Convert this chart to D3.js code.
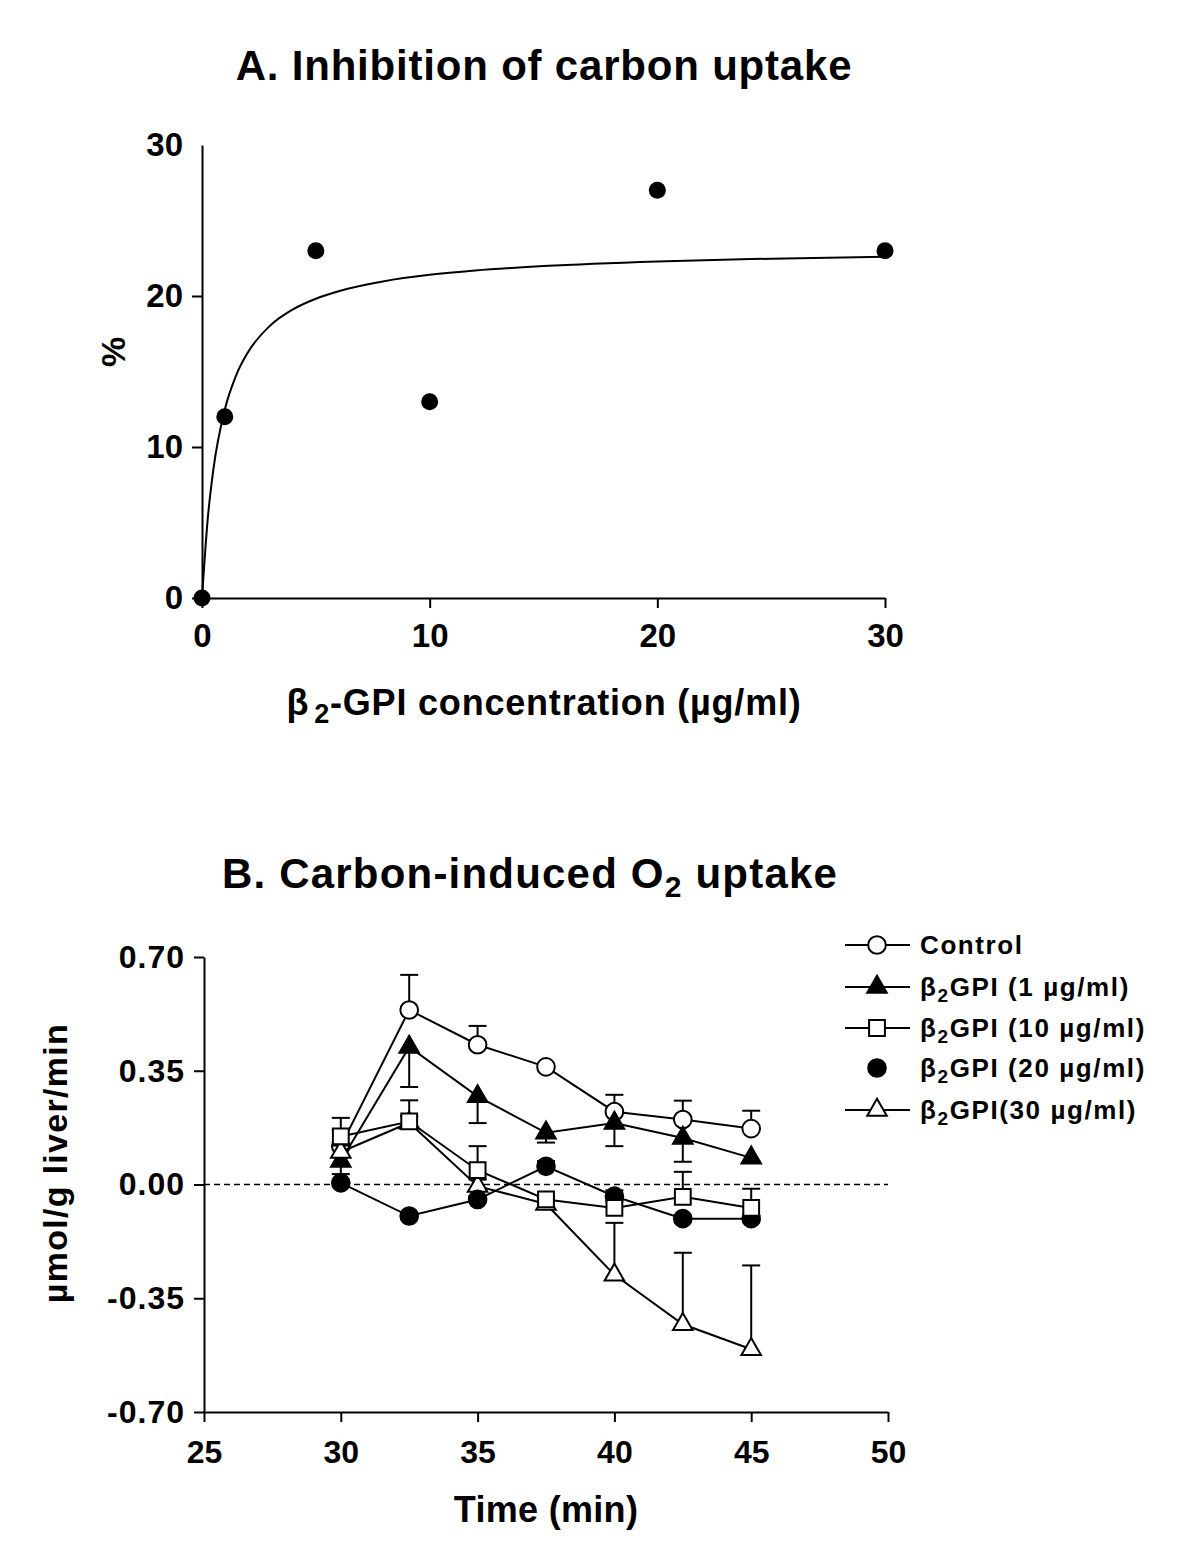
<!DOCTYPE html>
<html><head><meta charset="utf-8">
<script src="https://cdn.jsdelivr.net/npm/d3@7"></script>
<style>
body{margin:0;background:#fff;}
svg{display:block;font-family:"Liberation Sans",Arial,Helvetica,sans-serif;font-weight:bold;}
</style></head><body>
<svg id="chart" width="1200" height="1550"></svg>
<script>
// ---------- Panel A data ----------
const concA = [0, 1, 5, 10, 20, 30];
const inhibA = [0, 12, 23, 13, 27, 23];
const fitX = [0, 0.25, 0.5, 1, 1.5, 2, 3, 4, 5, 6, 8, 10, 12, 15, 20, 25, 30];
const fitY = [0, 5.21, 8.52, 12.47, 14.75, 16.23, 18.05, 19.12, 19.82, 20.32, 20.98, 21.40, 21.69, 21.98, 22.29, 22.47, 22.60];
const ticksAx = [0, 10, 20, 30];
const ticksAy = [0, 10, 20, 30];

// ---------- Panel B data ----------
const timeB = [30, 32.5, 35, 37.5, 40, 42.5, 45];
const controlMean = [0.118, 0.537, 0.430, 0.362, 0.224, 0.200, 0.172];
const controlSem  = [0.050, 0.108, 0.058, 0.010, 0.052, 0.058, 0.055];
const gpi1Mean  = [0.072, 0.423, 0.271, 0.159, 0.189, 0.143, 0.082];
const gpi1Sem   = [0.040, 0.123, 0.082, 0.030, 0.071, 0.073, 0.010];
const gpi10Mean = [0.148, 0.194, 0.044, -0.046, -0.072, -0.038, -0.072];
const gpi10Sem  = [0.057, 0.065, 0.074, 0.010, 0.020, 0.077, 0.059];
const gpi20Mean = [0.005, -0.097, -0.046, 0.056, -0.036, -0.105, -0.105];
const gpi20Sem  = [0.005, 0.010, 0.010, 0.016, 0.018, 0.010, 0.010];
const gpi30Mean = [0.100, 0.190, -0.005, -0.060, -0.278, -0.430, -0.507];
const gpi30Sem  = [0.020, 0.020, 0.020, 0.020, 0.160, 0.220, 0.258];
const ticksBx = [25, 30, 35, 40, 45, 50];
const ticksBy = [-0.70, -0.35, 0.00, 0.35, 0.70];
const legendLabels = [
  ["Control", "", ""],
  ["β", "2", "GPI (1 µg/ml)"],
  ["β", "2", "GPI (10 µg/ml)"],
  ["β", "2", "GPI (20 µg/ml)"],
  ["β", "2", "GPI(30 µg/ml)"]
];

const svg = d3.select("#chart");

function styleAxis(g, fs, ls) {
  g.select(".domain").attr("stroke", "#000").attr("stroke-width", 2);
  g.selectAll(".tick line").attr("stroke", "#000").attr("stroke-width", 2);
  g.selectAll(".tick text").attr("fill", "#000").style("font-size", fs + "px").style("font-weight", "bold")
    .style("letter-spacing", (ls || 0) + "px")
    .style("font-family", '"Liberation Sans",Arial,sans-serif');
}

// ================= PANEL A =================
const xA = d3.scaleLinear().domain([0, 30]).range([202, 885]);
const yA = d3.scaleLinear().domain([0, 30]).range([598, 145]);

svg.append("text").attr("x", 544).attr("y", 80).attr("text-anchor", "middle")
  .style("font-size", "42px").style("letter-spacing", "0.8px").text("A. Inhibition of carbon uptake");

const gAx = svg.append("g").attr("transform", `translate(0,${yA(0)})`)
  .call(d3.axisBottom(xA).tickValues(ticksAx).tickSize(10).tickSizeOuter(0).tickPadding(16).tickFormat(d3.format("d")));
styleAxis(gAx, 33, 0);
const gAy = svg.append("g").attr("transform", `translate(${xA(0)},0)`)
  .call(d3.axisLeft(yA).tickValues(ticksAy).tickSize(10).tickSizeOuter(0).tickPadding(9).tickFormat(d3.format("d")));
styleAxis(gAy, 33, 0);
gAy.selectAll(".tick line").filter(d => d === 30).remove();

// fitted curve
svg.append("path")
  .datum(fitX.map((x, i) => [x, fitY[i]]))
  .attr("fill", "none").attr("stroke", "#000").attr("stroke-width", 2)
  .attr("d", d3.line().x(d => xA(d[0])).y(d => yA(d[1])).curve(d3.curveMonotoneX));

svg.append("g").selectAll("circle")
  .data(concA.map((x, i) => [x, inhibA[i]]))
  .join("circle")
  .attr("cx", d => xA(d[0])).attr("cy", d => yA(d[1])).attr("r", 8.5).attr("fill", "#000");

// axis labels
const xlabA = svg.append("text").attr("x", 544).attr("y", 715).attr("text-anchor", "middle")
  .style("font-size", "36px").style("letter-spacing", "0.8px");
xlabA.append("tspan").text("β");
xlabA.append("tspan").attr("dx", 5).attr("dy", 8).style("font-size", "27px").text("2");
xlabA.append("tspan").attr("dy", -8).text("-GPI concentration (µg/ml)");

svg.append("text").attr("transform", `translate(125,352) rotate(-90)`).attr("text-anchor", "middle")
  .style("font-size", "34px").text("%");

// ================= PANEL B =================
const xB = d3.scaleLinear().domain([25, 50]).range([204, 888]);
const yB = d3.scaleLinear().domain([-0.7, 0.7]).range([1412, 957]);

const titleB = svg.append("text").attr("x", 530).attr("y", 888).attr("text-anchor", "middle")
  .style("font-size", "42px").style("letter-spacing", "1.2px");
titleB.append("tspan").text("B. Carbon-induced O");
titleB.append("tspan").attr("dy", 9).style("font-size", "30px").text("2");
titleB.append("tspan").attr("dy", -9).text(" uptake");

const gBx = svg.append("g").attr("transform", `translate(0,${yB(-0.7)})`)
  .call(d3.axisBottom(xB).tickValues(ticksBx).tickSize(10).tickSizeOuter(0).tickPadding(18).tickFormat(d3.format("d")));
styleAxis(gBx, 32, 0);
const gBy = svg.append("g").attr("transform", `translate(${xB(25)},0)`)
  .call(d3.axisLeft(yB).tickValues(ticksBy).tickSize(10).tickSizeOuter(0).tickPadding(9)
    .tickFormat(d => d3.format(".2f")(d).replace("\u2212", "-")));
styleAxis(gBy, 32, 1);

// zero dashed line
svg.append("line").attr("x1", xB(25)).attr("x2", xB(50)).attr("y1", yB(0)).attr("y2", yB(0))
  .attr("stroke", "#000").attr("stroke-width", 1.5).attr("stroke-dasharray", "6,4");

svg.append("text").attr("x", 546).attr("y", 1522).attr("text-anchor", "middle")
  .style("font-size", "36px").style("letter-spacing", "0.3px").text("Time (min)");
svg.append("text").attr("transform", `translate(67,1163) rotate(-90)`).attr("text-anchor", "middle")
  .style("font-size", "34px").style("letter-spacing", "1.3px").text("µmol/g liver/min");

const series = [
  {name: 0, mean: controlMean, sem: controlSem, sym: d3.symbolCircle, size: 245, fill: "#fff", dir: 1, legendLine: true},
  {name: 1, mean: gpi1Mean, sem: gpi1Sem, sym: d3.symbolTriangle, size: 165, fill: "#000", dir: -1, legendLine: true},
  {name: 4, mean: gpi30Mean, sem: gpi30Sem, sym: d3.symbolTriangle, size: 165, fill: "#fff", dir: 1, legendLine: true},
  {name: 3, mean: gpi20Mean, sem: gpi20Sem, sym: d3.symbolCircle, size: 245, fill: "#000", dir: 1, legendLine: false},
  {name: 2, mean: gpi10Mean, sem: gpi10Sem, sym: d3.symbolSquare, size: 250, fill: "#fff", dir: 1, legendLine: true}
];

const lineB = d3.line().x(d => xB(d.t)).y(d => yB(d.m));
series.forEach(s => {
  const pts = timeB.map((t, i) => ({t, m: s.mean[i], e: s.mean[i] + s.dir * s.sem[i]}));
  const g = svg.append("g");
  g.selectAll("line.eb").data(pts).join("line").attr("class", "eb")
    .attr("x1", d => xB(d.t)).attr("x2", d => xB(d.t)).attr("y1", d => yB(d.m)).attr("y2", d => yB(d.e))
    .attr("stroke", "#000").attr("stroke-width", 2);
  g.selectAll("line.cap").data(pts).join("line").attr("class", "cap")
    .attr("x1", d => xB(d.t) - 9).attr("x2", d => xB(d.t) + 9).attr("y1", d => yB(d.e)).attr("y2", d => yB(d.e))
    .attr("stroke", "#000").attr("stroke-width", 2);
  g.append("path").datum(pts).attr("fill", "none").attr("stroke", "#000").attr("stroke-width", 2).attr("d", lineB);
  g.selectAll("path.sym").data(pts).join("path").attr("class", "sym")
    .attr("transform", d => `translate(${xB(d.t)},${yB(d.m)})`)
    .attr("d", d3.symbol().type(s.sym).size(s.size))
    .attr("fill", s.fill).attr("stroke", "#000").attr("stroke-width", 2);
});

// legend
const legendOrder = [0, 1, 2, 3, 4];
const legRowY = [945, 987, 1028, 1068, 1110];
legendOrder.forEach((idx, r) => {
  const s = series.find(d => d.name === idx);
  const y = legRowY[r];
  const g = svg.append("g");
  if (s.legendLine) g.append("line").attr("x1", 845).attr("x2", 910).attr("y1", y).attr("y2", y)
    .attr("stroke", "#000").attr("stroke-width", 2);
  g.append("path").attr("transform", `translate(877,${y})`)
    .attr("d", d3.symbol().type(s.sym).size(s.size)).attr("fill", s.fill).attr("stroke", "#000").attr("stroke-width", 2);
  const lab = legendLabels[idx];
  const t = g.append("text").attr("x", 920).attr("y", y + 9).style("font-size", "26px").style("letter-spacing", "1.6px");
  t.append("tspan").text(lab[0]);
  if (lab[1]) {
    t.append("tspan").attr("dy", 6).style("font-size", "19px").text(lab[1]);
    t.append("tspan").attr("dy", -6).text(lab[2]);
  }
});
</script>
</body></html>
